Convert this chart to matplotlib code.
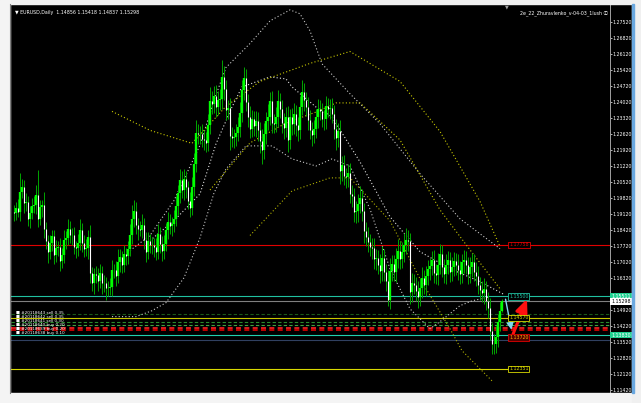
import matplotlib.pyplot as plt
import matplotlib.transforms as mtransforms
from matplotlib.patches import Rectangle
import numpy as np

# ---------------- datos (EURUSD diario) ----------------
first_open = 1.1920
close = [
    1.1915, 1.1938, 1.1922, 1.2010, 1.2030, 1.1962, 1.1966, 1.1890, 1.1918, 1.1945,
    1.1952, 1.1996, 1.1892, 1.1942, 1.1950, 1.1848, 1.1793, 1.1747, 1.1786, 1.1814,
    1.1734, 1.1762, 1.1768, 1.1706, 1.1732, 1.1798, 1.1807, 1.1848, 1.1822, 1.1818,
    1.1766, 1.1765, 1.1786, 1.1844, 1.1786, 1.1760, 1.1762, 1.1813, 1.1652, 1.1608,
    1.1649, 1.1644, 1.1617, 1.1655, 1.1609, 1.1610, 1.1587, 1.1589, 1.1594, 1.1665,
    1.1665, 1.1641, 1.1700, 1.1722, 1.1690, 1.1735, 1.1730, 1.1760, 1.1820, 1.1890,
    1.1925, 1.1863, 1.1845, 1.1844, 1.1865, 1.1800, 1.1745, 1.1795, 1.1775, 1.1775,
    1.1768, 1.1746, 1.1825, 1.1780, 1.1751, 1.1781, 1.1842, 1.1875, 1.1859, 1.1869,
    1.1889, 1.1946, 1.2005, 1.2059, 1.2015, 1.2066, 1.2028, 1.1969, 1.1937, 1.2030,
    1.2130, 1.2265, 1.2264, 1.2260, 1.2238, 1.2235, 1.2224, 1.2300, 1.2408, 1.2394,
    1.2427, 1.2380, 1.2409, 1.2415, 1.2510, 1.2459, 1.2369, 1.2375, 1.2252, 1.2245,
    1.2251, 1.2265, 1.2292, 1.2354, 1.2454, 1.2507, 1.2404, 1.2338, 1.2286, 1.2329,
    1.2295, 1.2319, 1.2280, 1.2232, 1.2192, 1.2264, 1.2318, 1.2338, 1.2407, 1.2311,
    1.2306, 1.2336, 1.2405, 1.2370, 1.2310, 1.2289, 1.2338, 1.2237, 1.2337, 1.2304,
    1.2351, 1.2300, 1.2280, 1.2380, 1.2445, 1.2409, 1.2382, 1.2324, 1.2280, 1.2256,
    1.2284, 1.2335, 1.2372, 1.2364, 1.2328, 1.2326, 1.2383, 1.2371, 1.2376, 1.2348,
    1.2284, 1.2244, 1.2275, 1.2100, 1.2127, 1.2077, 1.2076, 1.2091, 1.2000, 1.1989,
    1.1919, 1.1927, 1.1955, 1.1983, 1.1926, 1.1837, 1.1811, 1.1790, 1.1769, 1.1762,
    1.1713, 1.1720, 1.1690, 1.1662, 1.1720, 1.1659, 1.1620, 1.1537, 1.1663, 1.1694,
    1.1658, 1.1717, 1.1752, 1.1715, 1.1745, 1.1776, 1.1800, 1.1795, 1.1570, 1.1610,
    1.1600, 1.1575, 1.1550, 1.1590, 1.1630, 1.1600, 1.1640, 1.1670, 1.1685, 1.1710,
    1.1655, 1.1645, 1.1690, 1.1735, 1.1680, 1.1650, 1.1690, 1.1710, 1.1660, 1.1680,
    1.1705, 1.1690, 1.1665, 1.1650, 1.1700, 1.1710, 1.1690, 1.1650, 1.1680, 1.1700,
    1.1660, 1.1640, 1.1600, 1.1580, 1.1565, 1.1585, 1.1530, 1.1500, 1.1400, 1.1345,
    1.1343, 1.1376, 1.1438, 1.14856, 1.15298,
]
# mechas en pips (arriba / abajo del cuerpo)
wick_up = [
    30, 25, 40, 80, 35, 30, 40, 25, 30, 35,
    40, 45, 110, 30, 25, 60, 30, 25, 35, 30,
    30, 35, 25, 40, 30, 45, 30, 40, 35, 30,
    35, 30, 40, 45, 30, 35, 40, 30, 50, 30,
    25, 35, 30, 40, 30, 35, 25, 30, 40, 45,
    30, 40, 60, 35, 30, 40, 30, 35, 50, 60,
    50, 40, 30, 35, 45, 30, 35, 40, 30, 35,
    30, 40, 45, 30, 35, 40, 30, 45, 35, 30,
    40, 45, 35, 50, 40, 45, 35, 30, 40, 45,
    50, 60, 40, 35, 45, 40, 35, 50, 60, 40,
    45, 50, 40, 45, 75, 50, 40, 35, 45, 40,
    35, 40, 45, 50, 45, 50, 40, 35, 45, 40,
    35, 45, 40, 35, 50, 45, 40, 55, 40, 45,
    40, 45, 50, 35, 40, 45, 40, 45, 35, 40,
    45, 40, 35, 50, 55, 40, 35, 40, 45, 35,
    40, 35, 45, 40, 35, 40, 45, 35, 40, 45,
    40, 45, 35, 50, 40, 45, 35, 40, 45, 40,
    35, 40, 45, 50, 40, 35, 40, 45, 35, 40,
    45, 40, 35, 45, 50, 40, 35, 45, 55, 40,
    40, 45, 50, 40, 45, 55, 50, 40, 35, 45,
    40, 35, 45, 40, 50, 35, 45, 40, 35, 40,
    45, 40, 50, 45, 40, 35, 45, 40, 35, 45,
    40, 35, 45, 40, 35, 45, 40, 35, 45, 40,
    35, 40, 45, 35, 40, 45, 35, 40, 45, 35,
    40, 45, 35, 40, 12,
]
wick_dn = [
    35, 30, 25, 40, 30, 45, 35, 30, 40, 30,
    30, 40, 35, 30, 45, 40, 35, 50, 30, 35,
    40, 30, 35, 45, 30, 35, 40, 30, 35, 40,
    30, 45, 35, 30, 40, 35, 30, 45, 40, 35,
    45, 35, 40, 30, 45, 40, 50, 35, 30, 40,
    35, 45, 30, 40, 35, 30, 40, 35, 30, 40,
    35, 40, 45, 30, 35, 40, 45, 30, 35, 40,
    45, 35, 30, 40, 45, 35, 30, 40, 35, 45,
    35, 30, 40, 45, 35, 40, 45, 35, 40, 30,
    40, 35, 45, 40, 35, 45, 40, 35, 40, 45,
    40, 45, 35, 40, 45, 50, 45, 40, 60, 40,
    45, 40, 35, 45, 40, 45, 40, 45, 40, 35,
    40, 45, 50, 55, 60, 40, 45, 40, 35, 45,
    40, 35, 45, 40, 45, 50, 40, 55, 40, 45,
    40, 45, 50, 40, 35, 45, 40, 45, 40, 45,
    35, 40, 45, 40, 35, 45, 40, 35, 45, 40,
    45, 50, 40, 55, 45, 40, 50, 45, 40, 45,
    40, 45, 50, 40, 45, 50, 40, 45, 40, 45,
    40, 45, 40, 50, 45, 40, 45, 27, 40, 45,
    40, 45, 40, 45, 40, 45, 40, 45, 50, 45,
    40, 45, 50, 40, 45, 40, 45, 40, 45, 40,
    45, 40, 45, 40, 45, 40, 45, 40, 45, 40,
    40, 45, 40, 45, 40, 45, 40, 45, 40, 45,
    40, 45, 40, 45, 40, 45, 40, 45, 40, 45,
    42, 40, 45, 40, 2,
]

# bandas punteadas (barra, precio)
wu_bar = [58, 68, 80, 93, 100, 106, 118, 128, 138, 143, 148, 154, 168, 183, 203, 223, 243]
wu_val = [1.1752, 1.1818, 1.1971, 1.2213, 1.2409, 1.2553, 1.2658, 1.2757, 1.2805, 1.2788,
          1.2713, 1.2569, 1.2438, 1.2307, 1.2088, 1.1891, 1.1760]
wm_bar = [68, 80, 93, 101, 109, 114, 128, 136, 139, 151, 159, 173, 188, 203, 218, 233, 245]
wm_val = [1.1796, 1.1883, 1.2000, 1.2219, 1.2380, 1.2468, 1.2512, 1.2503, 1.2468, 1.2380,
          1.2337, 1.2140, 1.1900, 1.1747, 1.1673, 1.1616, 1.1560]
wl_bar = [49, 61, 69, 76, 85, 93, 100, 106, 116, 129, 139, 151, 159, 168, 178, 188, 198, 208, 213, 223, 229, 238]
wl_val = [1.1463, 1.1463, 1.1489, 1.1524, 1.1633, 1.1808, 1.2004, 1.2109, 1.2210, 1.2210,
          1.2153, 1.2122, 1.2153, 1.2122, 1.1934, 1.1672, 1.1497, 1.1410, 1.1441, 1.1511, 1.1532, 1.1550]
yu_bar = [49, 68, 89, 106, 123, 148, 168, 193, 213, 233, 243]
yu_val = [1.2361, 1.2278, 1.2221, 1.2383, 1.2492, 1.2571, 1.2623, 1.2492, 1.2273, 1.1967, 1.1770]
ym_bar = [98, 118, 136, 151, 161, 173, 193, 213, 228, 243]
ym_val = [1.2017, 1.2223, 1.2310, 1.2358, 1.2398, 1.2398, 1.2236, 1.1930, 1.1755, 1.1585]
yl_bar = [118, 139, 158, 168, 188, 203, 218, 224, 239]
yl_val = [1.1818, 1.2013, 1.2070, 1.2070, 1.1882, 1.1629, 1.1410, 1.1314, 1.1182]

# niveles horizontales
level_red = 1.17764
level_teal = 1.15511
level_bid = 1.15298
level_yel = 1.14570
level_teal2 = 1.13826
level_blue = 1.13608
level_yel2 = 1.12339
dash_green = [1.14745, 1.14389, 1.14257]
dash_red = [1.14126, 1.14039]

tick_vals = [1.27520 - 0.0070 * k for k in range(24)]
trade_labels = ["#20118643 sell 0.35", "#20118642 sell 0.35", "#20118641 sell 0.30",
                "#20118640 buy 0.20", "#20118639 buy 0.20", "#20118638 buy 0.10"]

# ---------------- figura ----------------
W, H = 641, 403
fig = plt.figure(figsize=(W / 100, H / 100), dpi=100, facecolor="black")

def fx(px): return px / W
def fy(py): return 1 - py / H

L, R, T, B = 11, 610, 4, 393
ax = fig.add_axes([fx(L), fy(B), fx(R) - fx(L), fy(T) - fy(B)])
ax.set_facecolor("black")
bar_px = 2.0
x0 = 14
ax.set_xlim((L - x0) / bar_px, (R - x0) / bar_px)
ax.set_ylim(1.27520 - (B - 22) * 0.0004375, 1.27520 + (22 - T) * 0.0004375)
for s in ax.spines.values():
    s.set_visible(False)
ax.spines["right"].set_visible(True)
ax.spines["right"].set_color("#a0a0a0")
ax.spines["right"].set_linewidth(0.7)
ax.set_xticks([])
ax.yaxis.tick_right()
ax.set_yticks(tick_vals)
# la etiqueta 1.15620 queda tapada por las cajas de precio
ax.set_yticklabels(["" if abs(v - 1.1562) < 1e-4 else "%.5f" % v for v in tick_vals])
ax.tick_params(axis="y", colors="white", labelsize=3.4, length=1.2, width=0.5, pad=0.8)

close = np.array(close)
opn = np.concatenate([[first_open], close[:-1]])
hi = np.maximum(opn, close) + np.array(wick_up) * 0.0001
lo = np.minimum(opn, close) - np.array(wick_dn) * 0.0001
idx = np.arange(len(close))
up = close >= opn

# niveles
ax.axhline(level_red, color="#e00000", lw=0.8, zorder=1)
ax.axhline(level_teal, color="#20c0a0", lw=0.8, zorder=1)
ax.axhline(level_bid, color="#808080", lw=0.8, zorder=1)
ax.axhline(level_yel, color="#c8c800", lw=0.8, zorder=1)
ax.axhline(level_teal2, color="#20d0b0", lw=0.8, zorder=1)
ax.axhline(level_blue, color="#304060", lw=0.8, zorder=1)
ax.axhline(level_yel2, color="#d8d800", lw=0.8, xmax=(508 - L) / (R - L), zorder=1)
for v, c in zip(dash_green, ["#1a5a1a", "#2a8a2a", "#40a040"]):
    ax.axhline(v, color=c, lw=0.8, ls=(0, (3, 2)), zorder=1)
for v, c in zip(dash_red, ["#ff2020", "#e00000"]):
    ax.axhline(v, color=c, lw=1.2, ls=(0, (3, 2)), zorder=1)

# bandas
dot = dict(ls=(0, (1, 2)), lw=0.8, zorder=2)
ax.plot(wu_bar, wu_val, color="#c8c8c8", **dot)
ax.plot(wm_bar, wm_val, color="#e0e0e0", **dot)
ax.plot(wl_bar, wl_val, color="#c8c8c8", **dot)
ax.plot(yu_bar, yu_val, color="#c8c800", **dot)
ax.plot(ym_bar, ym_val, color="#c8c800", **dot)
ax.plot(yl_bar, yl_val, color="#b0b000", **dot)

# velas
ax.vlines(idx, lo, hi, color="#00a000", lw=0.72, zorder=3)
ax.vlines(idx[up], opn[up], close[up], color="#00ff00", lw=1.7, zorder=4)
ax.vlines(idx[~up], close[~up], opn[~up], color="#ffffff", lw=0.8, zorder=4)

# flechas
last = len(close) - 1
ax.annotate("", xy=(last + 13, level_teal), xytext=(last + 5, 1.1375),
            arrowprops=dict(arrowstyle="-|>,head_length=0.8,head_width=0.35", color="#ff1010", lw=2.2))
ax.annotate("", xy=(last + 5, 1.1394), xytext=(last + 1.5, level_teal),
            arrowprops=dict(arrowstyle="-|>,head_length=0.4,head_width=0.2", color="#80d8f0", lw=1.0))

# etiquetas de precio en el eje
tr = mtransforms.blended_transform_factory(ax.transAxes, ax.transData)
for v, txt, bg, fg in [(level_teal, "1.15511", "#20d090", "white"),
                       (level_bid, "1.15298", "white", "black"),
                       (level_teal2, "1.13830", "#20d090", "white")]:
    ax.text(1.002, v, txt, transform=tr, fontsize=3.4, color=fg, va="center", ha="left",
            bbox=dict(boxstyle="square,pad=0.2", fc=bg, ec="none"), clip_on=False, zorder=10)

# etiquetas de niveles dentro del grafico
for v, txt, c in [(level_red, "1.17758", "#e00000"), (level_teal, "1.15500", "#20c0a0"),
                  (level_yel, "1.14570", "#d8d800"), (level_yel2, "1.12351", "#d8d800")]:
    ax.text(last + 3.5, v, txt, fontsize=3.4, color=c, va="center", ha="left",
            bbox=dict(boxstyle="square,pad=0.2", fc="black", ec=c, lw=0.6), zorder=9)
ax.text(last + 3.5, 1.1372, "1.13720", fontsize=3.4, color="#ffb000", va="center", ha="left",
        bbox=dict(boxstyle="square,pad=0.2", fc="#500000", ec="#e00000", lw=0.6), zorder=9)

# etiquetas de operaciones (izquierda)
for k, t in enumerate(trade_labels):
    ax.text(1.0, 1.1478 - k * 0.0017, "\u25a0 " + t, fontsize=3.0, color="white",
            va="center", ha="left", zorder=9)

# cabecera
ax.text(0.006, 0.985, "\u25bc EURUSD,Daily  1.14856 1.15418 1.14837 1.15298", transform=ax.transAxes,
        fontsize=3.4, color="white", va="top", ha="left")
ax.text(0.997, 0.985, "2e_22_Zhuravlenko_v-04-03_1lush \u24d8", transform=ax.transAxes,
        fontsize=3.4, color="white", va="top", ha="right",
        family=["DejaVu Sans", "Noto Sans CJK JP"])

# marcos de ventana
ov = fig.add_axes([0, 0, 1, 1], zorder=20)
ov.set_xlim(0, W)
ov.set_ylim(H, 0)
ov.axis("off")
ov.patch.set_alpha(0)
ov.add_patch(Rectangle((0, 0), W, T, color="#f0f0f0"))
ov.add_patch(Rectangle((0, 0), L - 1, H, color="#f4f4f4"))
ov.add_patch(Rectangle((0, B), W, H - B, color="#f4f4f4"))
ov.add_patch(Rectangle((632, 0), W - 632, H, color="#f0f0f0"))
ov.add_patch(Rectangle((632, T), 2, B - T, color="#6aa8e0"))
ov.plot([L - 1, L - 1], [T, B], color="#808080", lw=0.8)
ov.text(507, T + 2.5, "\u25bc", fontsize=3.5, color="#a0a0a0", ha="center", va="center")

fig.savefig("out.png", dpi=100, facecolor="black")
